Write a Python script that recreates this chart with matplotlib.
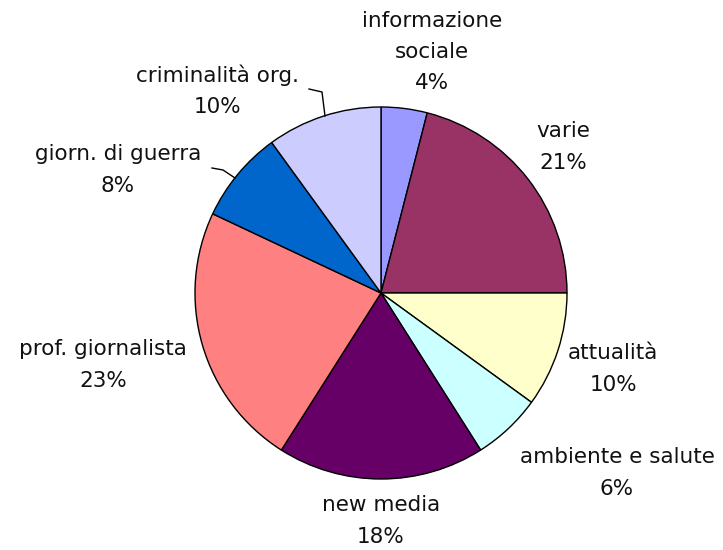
import matplotlib.pyplot as plt

# Data
labels = ["informazione\nsociale", "varie", "attualità", "ambiente e salute",
          "new media", "prof. giornalista", "giorn. di guerra", "criminalità org."]
values = [4, 21, 10, 6, 18, 23, 8, 10]
colors = ["#9999FF", "#993366", "#FFFFCC", "#CCFFFF",
          "#660066", "#FF8080", "#0066CC", "#CCCCFF"]

W, H = 723, 550
fig = plt.figure(figsize=(W / 100, H / 100), dpi=100)
ax = fig.add_axes([0, 0, 1, 1])

cx, cy, r = 381, H - 293, 186
ax.pie(values, colors=colors, startangle=90, counterclock=False,
       center=(cx, cy), radius=r, frame=True,
       wedgeprops=dict(edgecolor="black", linewidth=1))
ax.set_xlim(0, W)
ax.set_ylim(0, H)
ax.set_aspect("equal")
ax.axis("off")

# label positions (pixel coords, y from top)
label_pos = [(432, 52), (563, 147), (613, 369), (617, 473),
             (381, 521), (103, 365), (118, 170), (218, 91)]
for lab, v, (x, y) in zip(labels, values, label_pos):
    ax.text(x, H - y, f"{lab}\n{v}%", ha="center", va="center",
            fontsize=15.5, family="DejaVu Sans", color="#111111",
            linespacing=1.7)

# leader lines
ax.plot([309, 322, 325], [H - 89, H - 92, H - 116], color="black", lw=1)
ax.plot([212, 223, 235], [H - 168, H - 170, H - 178], color="black", lw=1)

fig.savefig("out.png", dpi=100)
